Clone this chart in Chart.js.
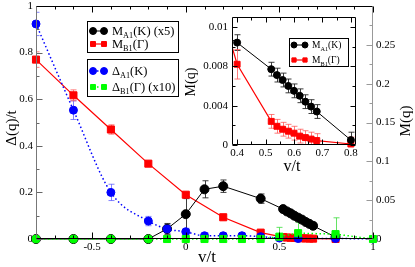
<!DOCTYPE html>
<html>
<head>
<meta charset="utf-8">
<script src="https://cdn.jsdelivr.net/npm/chart.js@4.4.0/dist/chart.umd.min.js"></script>
<style>
  html, body { margin: 0; padding: 0; background: #fff; }
  #wrap { position: relative; width: 415px; height: 267px; overflow: hidden; }
  #mainChart { position: absolute; left: 0; top: 0; }
  #insetChart { position: absolute; left: 180px; top: 10px; }
</style>
</head>
<body>
<div id="wrap">
  <canvas id="mainChart" width="415" height="267"></canvas>
  <canvas id="insetChart" width="185" height="170"></canvas>
</div>
<script>
/* ---------- data (main panel) ---------- */
// Δ_B1(Γ) x10, left axis
const dB1X   = [-0.8, -0.6, -0.4, -0.2, -0.1, 0, 0.1, 0.2, 0.3, 0.4, 0.5, 0.6, 0.8, 1];
const dB1Y   = [0, 0, 0, 0, 0, 0, 0, 0, 0, 0, 0.01, 0.025, 0.021, 0];
const dB1Err = [0, 0, 0, 0, 0, 0, 0, 0, 0, 0, 0.04, 0.047, 0.07, 0];

// Δ_A1(K), left axis
const dA1X   = [-0.8, -0.6, -0.4, -0.2, -0.1, 0, 0.1, 0.2, 0.3, 0.4, 0.5, 0.6, 0.8, 1];
const dA1Y   = [0.923, 0.553, 0.2, 0.077, 0.043, 0.031, 0.014, 0.014, 0.014, 0.01, 0.004, 0.002, 0.002, 0];
const dA1Err = [0.05, 0.04, 0.035, 0.02, 0.02, 0.015, 0.012, 0.012, 0.012, 0.01, 0.008, 0.006, 0.005, 0];

// M_A1(K) x5, right axis
const mA1X   = [-0.8, -0.6, -0.4, -0.2, -0.1, 0, 0.1, 0.2, 0.4, 0.52, 0.54, 0.56, 0.58, 0.6, 0.62, 0.64, 0.66, 0.68, 0.8];
const mA1Y   = [0, 0, 0, 0, 0.013, 0.032, 0.064, 0.068, 0.052, 0.0385, 0.0355, 0.033, 0.03, 0.0275, 0.025, 0.022, 0.0195, 0.017, 0.0025];
const mA1Err = [0, 0, 0, 0, 0.007, 0.02, 0.011, 0.008, 0.006, 0.0035, 0.0035, 0.0035, 0.0035, 0.0035, 0.0035, 0.0035, 0.0035, 0.0035, 0.004];

// M_B1(Γ), right axis
const mB1X   = [-0.8, -0.6, -0.4, -0.2, 0, 0.2, 0.4, 0.52, 0.54, 0.56, 0.58, 0.6, 0.62, 0.64, 0.66, 0.68, 0.8];
const mB1Y   = [0.231, 0.185, 0.141, 0.097, 0.057, 0.028, 0.0082, 0.0024, 0.0019, 0.0016, 0.0014, 0.0012, 0.0009, 0.00075, 0.0006, 0.00045, 0.0001];
const mB1Err = [0.01, 0.007, 0.006, 0.003, 0.003, 0.003, 0.0015, 0.0007, 0.0007, 0.0007, 0.0007, 0.0007, 0.0007, 0.0007, 0.0007, 0.0007, 0.0007];

// ticks (main)
const xMajor  = [-0.5, 0, 0.5, 1];
const xLabels = ['-0.5', '0', '0.5', '1'];
const xMinor  = [-0.7, -0.6, -0.4, -0.3, -0.2, -0.1, 0.1, 0.2, 0.3, 0.4, 0.6, 0.7, 0.8, 0.9];
const yMajor  = [0, 0.2, 0.4, 0.6, 0.8, 1];
const yLabels = ['0', '0.2', '0.4', '0.6', '0.8', '1'];
const yMinor  = [0.1, 0.3, 0.5, 0.7, 0.9];
const y2Major  = [0, 0.05, 0.1, 0.15, 0.2, 0.25];
const y2Labels = ['0', '0.05', '0.1', '0.15', '0.2', '0.25'];
const y2Minor  = [0.025, 0.075, 0.125, 0.175, 0.225, 0.275];

/* ---------- data (inset) ---------- */
const inA1X   = [0.2, 0.4, 0.52, 0.54, 0.56, 0.58, 0.6, 0.62, 0.64, 0.66, 0.68, 0.8];
const inA1Y   = [0.0136, 0.0104, 0.0077, 0.0071, 0.0066, 0.006, 0.0055, 0.005, 0.0044, 0.0039, 0.0034, 0.0005];
const inA1Err = [0, 0.0008, 0.0007, 0.0007, 0.0007, 0.0007, 0.0007, 0.0007, 0.0007, 0.0007, 0.0007, 0.0008];
const inB1X   = [0.2, 0.4, 0.52, 0.54, 0.56, 0.58, 0.6, 0.62, 0.64, 0.66, 0.68, 0.8];
const inB1Y   = [0.028, 0.0082, 0.0024, 0.0019, 0.0016, 0.0014, 0.0012, 0.0009, 0.00075, 0.0006, 0.00045, 0.0001];
const inB1Err = [0, 0.0015, 0.0007, 0.0007, 0.0007, 0.0007, 0.0007, 0.0007, 0.0007, 0.0007, 0.0007, 0.0007];

const inXMajor  = [0.4, 0.5, 0.6, 0.7, 0.8];
const inXLabels = ['0.4', '0.5', '0.6', '0.7', '0.8'];
const inXMinor  = [0.45, 0.55, 0.65, 0.75];
const inYMajor  = [0, 0.004, 0.008, 0.012];
const inYLabels = ['0', '0.004', '0.008', '0.01'];
const inYMinor  = [0.002, 0.006, 0.01];

const SERIF = '"Liberation Serif", "DejaVu Serif", serif';
const pts = (xs, ys) => xs.map((x, i) => ({ x, y: ys[i] }));

/* ---------- helpers ---------- */
function richParts(label) {
    const parts = [];
    label.split(/(_\{[^}]*\})/).forEach(p => {
        if (!p) return;
        if (p.startsWith('_{')) parts.push({ t: p.slice(2, -1), sub: true });
        else parts.push({ t: p, sub: false });
    });
    return parts;
}

function drawRich(ctx, label, x, y, size) {
    ctx.textAlign = 'left';
    ctx.textBaseline = 'alphabetic';
    for (const p of richParts(label)) {
        const fs = p.sub ? size * 0.66 : size;
        ctx.font = fs + 'px ' + SERIF;
        ctx.fillText(p.t, x, p.sub ? y + size * 0.25 : y);
        x += ctx.measureText(p.t).width;
    }
}

/* ---------- plugins ---------- */
const errorBars = {
    id: 'errorBars',
    beforeDatasetsDraw(chart) {
        const { ctx, chartArea: a } = chart;
        ctx.save();
        ctx.beginPath();
        ctx.rect(a.left, a.top, a.right - a.left, a.bottom - a.top);
        ctx.clip();
        chart.data.datasets.forEach((ds, i) => {
            if (!ds.err) return;
            const meta = chart.getDatasetMeta(i);
            const xs = chart.scales[meta.xAxisID];
            const ys = chart.scales[meta.yAxisID];
            ctx.strokeStyle = ds.errColor;
            ctx.lineWidth = 1;
            ds.data.forEach((p, j) => {
                const e = ds.err[j];
                if (!e) return;
                const x = Math.round(xs.getPixelForValue(p.x)) + 0.5;
                const y0 = ys.getPixelForValue(p.y - e);
                const y1 = ys.getPixelForValue(p.y + e);
                ctx.beginPath();
                ctx.moveTo(x, y0); ctx.lineTo(x, y1);
                ctx.moveTo(x - 3, y0); ctx.lineTo(x + 3, y0);
                ctx.moveTo(x - 3, y1); ctx.lineTo(x + 3, y1);
                ctx.stroke();
            });
        });
        ctx.restore();
    }
};

const frame = {
    id: 'frame',
    beforeDraw(chart, args, opts) {
        if (!opts.fill) return;
        const { ctx, chartArea: a } = chart;
        ctx.save();
        ctx.fillStyle = opts.fill;
        ctx.fillRect(a.left, a.top, a.right - a.left, a.bottom - a.top);
        ctx.restore();
    },
    afterDraw(chart, args, opts) {
        const { ctx, chartArea: a } = chart;
        const L = Math.round(a.left) + 0.5, R = Math.round(a.right) - 0.5;
        const T = Math.round(a.top) + 0.5, B = Math.round(a.bottom) - 0.5;
        ctx.save();
        ctx.lineWidth = 1;
        (opts.ticks || []).forEach(t => {
            const s = chart.scales[t.axis];
            ctx.strokeStyle = t.color;
            [[t.major, opts.majorLen], [t.minor, opts.minorLen]].forEach(([list, len]) => {
                list.forEach(v => {
                    const p = Math.round(s.getPixelForValue(v)) + 0.5;
                    ctx.beginPath();
                    t.sides.forEach(side => {
                        if (side === 'bottom') { ctx.moveTo(p, B); ctx.lineTo(p, B - len); }
                        if (side === 'top') { ctx.moveTo(p, T); ctx.lineTo(p, T + len); }
                        if (side === 'left') { ctx.moveTo(L, p); ctx.lineTo(L + len, p); }
                        if (side === 'right') { ctx.moveTo(R, p); ctx.lineTo(R - len, p); }
                    });
                    ctx.stroke();
                });
            });
        });
        (opts.edges || []).forEach(e => {
            ctx.strokeStyle = e.color;
            ctx.lineWidth = e.width || 1;
            ctx.beginPath();
            if (e.side === 'top') { ctx.moveTo(L, T); ctx.lineTo(R, T); }
            if (e.side === 'bottom') { ctx.moveTo(L, B); ctx.lineTo(R, B); }
            if (e.side === 'left') { ctx.moveTo(L, T); ctx.lineTo(L, B); }
            if (e.side === 'right') { ctx.moveTo(R, T); ctx.lineTo(R, B); }
            ctx.stroke();
        });
        ctx.restore();
    }
};

const boxLegend = {
    id: 'boxLegend',
    afterDraw(chart, args, opts) {
        const { ctx } = chart;
        (opts.boxes || []).forEach(b => {
            ctx.save();
            ctx.fillStyle = '#fff';
            ctx.fillRect(b.x, b.y, b.w, b.h);
            ctx.strokeStyle = '#000';
            ctx.lineWidth = 1;
            ctx.strokeRect(b.x + 0.5, b.y + 0.5, b.w, b.h);
            b.items.forEach((idx, k) => {
                const ds = chart.data.datasets[idx];
                const y = b.rows[k];
                ctx.strokeStyle = ds.borderColor;
                ctx.lineWidth = ds.borderWidth;
                ctx.setLineDash(ds.borderDash || []);
                ctx.beginPath();
                ctx.moveTo(b.m0, y); ctx.lineTo(b.m1, y);
                ctx.stroke();
                ctx.setLineDash([]);
                ctx.fillStyle = ds.backgroundColor;
                ctx.strokeStyle = ds.borderColor;
                ctx.lineWidth = 1;
                const st = b.styles[k];
                [b.m0, b.m1].forEach(mx => {
                    Chart.helpers.drawPoint(ctx, { pointStyle: st, radius: b.r, rotation: 0, borderWidth: 1 }, mx, y);
                });
                ctx.fillStyle = '#000';
                drawRich(ctx, ds.label, b.tx, y + b.size * 0.33, b.size);
            });
            ctx.restore();
        });
    }
};

const axisTitles = {
    id: 'axisTitles',
    afterDraw(chart, args, opts) {
        const { ctx } = chart;
        (opts.titles || []).forEach(t => {
            ctx.save();
            ctx.translate(t.x, t.y);
            ctx.rotate(t.rot * Math.PI / 180);
            ctx.fillStyle = '#000';
            ctx.font = t.size + 'px ' + SERIF;
            ctx.textAlign = 'center';
            ctx.textBaseline = 'middle';
            ctx.fillText(t.text, 0, 0);
            ctx.restore();
        });
    }
};

function linearAxis(opts) {
    return {
        type: 'linear',
        position: opts.position,
        min: opts.min,
        max: opts.max,
        afterBuildTicks: s => { s.ticks = opts.major.map(v => ({ value: v })); },
        afterFit: s => {
            if (opts.width !== undefined) s.width = opts.width;
            if (opts.height !== undefined) s.height = opts.height;
            s.paddingLeft = 0; s.paddingRight = 0; s.paddingTop = 0; s.paddingBottom = 0;
        },
        grid: { display: false, drawTicks: false },
        border: { display: false },
        ticks: {
            autoSkip: false,
            maxRotation: 0,
            padding: opts.padding,
            color: '#000',
            font: { family: SERIF, size: opts.fontSize },
            callback: (v, i) => opts.labels[i]
        }
    };
}

/* ---------- main chart ---------- */
const mainChart = new Chart(document.getElementById('mainChart'), {
    type: 'line',
    data: {
        datasets: [
            {
                label: 'Δ_{B1}(Γ) (x10)',
                data: pts(dB1X, dB1Y),
                yAxisID: 'y',
                borderColor: '#00ff00',
                backgroundColor: '#00ff00',
                borderWidth: 1.5,
                borderDash: [1.5, 2.5],
                pointStyle: dB1X.map(x => x <= -0.2 ? 'circle' : 'rect'),
                pointRadius: dB1X.map(x => x <= -0.2 ? 4 : 5),
                pointBorderWidth: 1,
                clip: false,
                err: dB1Err,
                errColor: 'rgba(60,220,60,0.8)'
            },
            {
                label: 'Δ_{A1}(K)',
                data: pts(dA1X, dA1Y),
                yAxisID: 'y',
                borderColor: '#0000ff',
                backgroundColor: '#0000ff',
                borderWidth: 1.5,
                borderDash: [1.5, 2.5],
                cubicInterpolationMode: 'monotone',
                pointStyle: 'circle',
                pointRadius: 4,
                pointBorderWidth: 1,
                clip: false,
                err: dA1Err,
                errColor: 'rgba(90,90,255,0.75)'
            },
            {
                label: 'M_{A1}(K) (x5)',
                data: pts(mA1X, mA1Y),
                yAxisID: 'y2',
                borderColor: '#000000',
                backgroundColor: '#000000',
                borderWidth: 1,
                pointStyle: 'circle',
                pointRadius: 4.5,
                pointBorderWidth: 1,
                clip: false,
                err: mA1Err,
                errColor: 'rgba(40,40,40,0.9)'
            },
            {
                label: 'M_{B1}(Γ)',
                data: pts(mB1X, mB1Y),
                yAxisID: 'y2',
                borderColor: '#ff0000',
                backgroundColor: '#ff0000',
                borderWidth: 1.2,
                pointStyle: 'rect',
                pointRadius: 5,
                pointBorderWidth: 1,
                clip: false,
                err: mB1Err,
                errColor: 'rgba(255,80,80,0.75)'
            }
        ]
    },
    options: {
        responsive: false,
        animation: false,
        events: [],
        layout: { padding: { top: 4, left: 0, right: 0, bottom: 0 } },
        plugins: {
            legend: { display: false },
            tooltip: { enabled: false },
            frame: {
                majorLen: 6,
                minorLen: 3,
                ticks: [
                    { axis: 'x', major: xMajor, minor: xMinor, sides: ['bottom', 'top'], color: '#000' },
                    { axis: 'y', major: yMajor, minor: yMinor, sides: ['left'], color: '#666' },
                    { axis: 'y2', major: y2Major, minor: y2Minor, sides: ['right'], color: '#999' }
                ],
                edges: [
                    { side: 'left', color: '#777' },
                    { side: 'right', color: '#999' },
                    { side: 'top', color: '#000' },
                    { side: 'bottom', color: '#000' }
                ]
            },
            boxLegend: {
                boxes: [
                    { x: 87, y: 21, w: 91, h: 31, items: [2, 3], styles: ['circle', 'rect'], rows: [31, 44],
                      m0: 93, m1: 104, r: 3.5, tx: 112, size: 12.5 },
                    { x: 87, y: 59, w: 91, h: 37, items: [1, 0], styles: ['circle', 'rect'], rows: [71, 87],
                      m0: 93, m1: 104, r: 3.5, tx: 112, size: 12.5 }
                ]
            },
            axisTitles: {
                titles: [
                    { text: 'Δ(q)/t', x: 12, y: 128, rot: -90, size: 15 },
                    { text: 'v/t', x: 207, y: 258, rot: 0, size: 17 },
                    { text: 'M(q)', x: 406, y: 121, rot: -90, size: 15 }
                ]
            }
        },
        scales: {
            x: linearAxis({ position: 'bottom', min: -0.8, max: 1, major: xMajor, labels: xLabels, height: 28, padding: 2, fontSize: 11 }),
            y: linearAxis({ position: 'left', min: 0, max: 1, major: yMajor, labels: yLabels, width: 36, padding: 3, fontSize: 11 }),
            y2: linearAxis({ position: 'right', min: 0, max: 0.3, major: y2Major, labels: y2Labels, width: 42, padding: 3, fontSize: 11 })
        }
    },
    plugins: [errorBars, frame, boxLegend, axisTitles]
});

/* ---------- inset chart ---------- */
const insetChart = new Chart(document.getElementById('insetChart'), {
    type: 'line',
    data: {
        datasets: [
            {
                label: 'M_{A1}(K)',
                data: pts(inA1X, inA1Y),
                borderColor: '#000000',
                backgroundColor: '#000000',
                borderWidth: 1,
                pointStyle: 'circle',
                pointRadius: 3.5,
                pointBorderWidth: 1,
                clip: { left: 0, top: 0, right: 6, bottom: 6 },
                err: inA1Err,
                errColor: 'rgba(40,40,40,0.9)'
            },
            {
                label: 'M_{B1}(Γ)',
                data: pts(inB1X, inB1Y),
                borderColor: '#ff0000',
                backgroundColor: '#ff0000',
                borderWidth: 1.2,
                pointStyle: 'rect',
                pointRadius: 4.2,
                pointBorderWidth: 1,
                clip: { left: 0, top: 0, right: 6, bottom: 6 },
                err: inB1Err,
                errColor: 'rgba(255,80,80,0.75)'
            }
        ]
    },
    options: {
        responsive: false,
        animation: false,
        events: [],
        layout: { padding: { top: 7, left: 0, right: 9, bottom: 0 } },
        plugins: {
            legend: { display: false },
            tooltip: { enabled: false },
            frame: {
                fill: '#ffffff',
                majorLen: 5,
                minorLen: 3,
                ticks: [
                    { axis: 'x', major: inXMajor, minor: inXMinor, sides: ['bottom', 'top'], color: '#000' },
                    { axis: 'y', major: inYMajor, minor: inYMinor, sides: ['left', 'right'], color: '#000' }
                ],
                edges: [
                    { side: 'left', color: '#000' },
                    { side: 'right', color: '#000' },
                    { side: 'top', color: '#000' },
                    { side: 'bottom', color: '#000' }
                ]
            },
            boxLegend: {
                boxes: [
                    { x: 109, y: 28, w: 59, h: 28, items: [0, 1], styles: ['circle', 'rect'], rows: [35, 50],
                      m0: 114, m1: 125, r: 3, tx: 132, size: 9.5 }
                ]
            },
            axisTitles: {
                titles: [
                    { text: 'M(q)', x: 11, y: 72, rot: -90, size: 14 },
                    { text: 'v/t', x: 112, y: 157, rot: 0, size: 16 }
                ]
            }
        },
        scales: {
            x: linearAxis({ position: 'bottom', min: 0.382, max: 0.818, major: inXMajor, labels: inXLabels, height: 35, padding: 2, fontSize: 11 }),
            y: linearAxis({ position: 'left', min: 0, max: 0.013, major: inYMajor, labels: inYLabels, width: 52, padding: 4, fontSize: 11 })
        }
    },
    plugins: [frame, errorBars, boxLegend, axisTitles]
});
</script>
</body>
</html>
